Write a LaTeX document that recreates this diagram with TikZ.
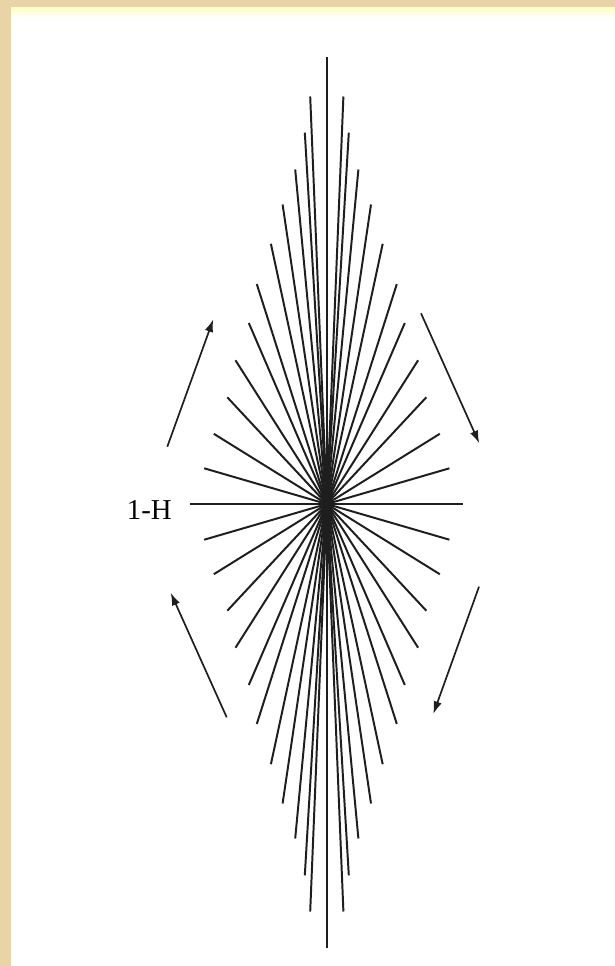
\documentclass[tikz,border=0pt]{standalone}
\usepackage{fontspec}
\setmainfont{Liberation Serif}
\usetikzlibrary{arrows.meta}

\definecolor{parchment}{RGB}{232,212,166}
\definecolor{inkgray}{RGB}{30,30,30}
\tikzset{
  ray/.style={draw=inkgray, line width=1.4pt},
  turn/.style={draw=inkgray, line width=1.2pt, -{Latex[length=9pt,width=6pt]}}
}

\begin{document}
\begin{tikzpicture}[x=0.025cm, y=-0.025cm]
      \useasboundingbox (0,0) rectangle (615,966);
      % page and paper
      \fill[parchment] (0,0) rectangle (615,966);
      \fill[white] (11,8) rectangle (615,966);
      \shade[top color=yellow!22, bottom color=white] (11,8) rectangle (615,18);
      % spins fanning out of the centre
      \coordinate (c) at (326.8,504);
      \draw[ray] (c) -- +(0,-447);
      \draw[ray] (c) -- +(0,444);
      \draw[ray] (c) -- +(-136.5,0);
      \draw[ray] (c) -- +(136.5,0);
      \foreach \dx/\dy in {16.6/407.5, 22/371.3, 31.6/334.5, 44.2/299.5, 55.9/260.2, 70/219.9,
                           78/181, 91.3/143.7, 99.5/106.7, 113/70.2, 122.6/35.7}
      {
        \draw[ray] (c) -- +(-\dx,-\dy);
        \draw[ray] (c) -- +(\dx,-\dy);
        \draw[ray] (c) -- +(-\dx,\dy);
        \draw[ray] (c) -- +(\dx,\dy);
      }
      \node[font=\fontsize{20.5}{24}\selectfont, anchor=base east, inner sep=0pt] (lbl) at (172,519) {1-H};
      % sense of rotation
      \coordinate (ulA) at (167.3,446.7); \coordinate (ulB) at (213.3,319.3);
      \coordinate (urA) at (421,313.3);   \coordinate (urB) at (479.3,443.3);
      \coordinate (lrA) at (479,586.7);   \coordinate (lrB) at (433.3,714);
      \coordinate (llA) at (226.7,717.3); \coordinate (llB) at (170.7,592.7);
      \draw[turn] (ulA) -- (ulB);
      \draw[turn] (urA) -- (urB);
      \draw[turn] (lrA) -- (lrB);
      \draw[turn] (llA) -- (llB);
\end{tikzpicture}
\end{document}
